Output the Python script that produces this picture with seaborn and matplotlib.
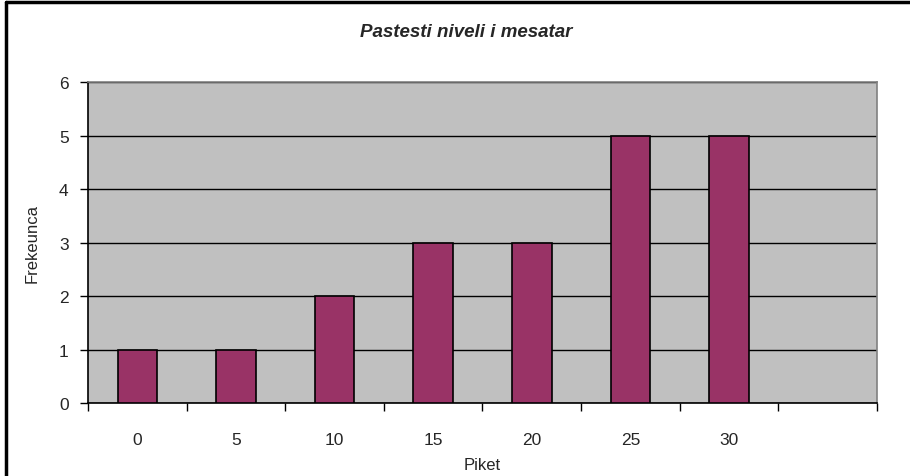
import matplotlib
matplotlib.use("Agg")
import matplotlib.pyplot as plt
from matplotlib.lines import Line2D
import seaborn as sns
import pandas as pd
import numpy as np

# Score classes and how many students fell in each
piket = ["0", "5", "10", "15", "20", "25", "30"]
frekuenca = [1, 1, 2, 3, 3, 5, 5]
n_slots = 8  # one extra empty category slot on the right
y_ticks = [0, 1, 2, 3, 4, 5, 6]

sns.set_theme(style="white")
plt.rcParams["font.family"] = ["Liberation Sans", "DejaVu Sans"]

df = pd.DataFrame({"Piket": piket, "Frekeunca": frekuenca})

fig = plt.figure(figsize=(9.1, 4.77), dpi=100)
ax = fig.add_axes([0.0967, 0.153, 0.8670, 0.673])
ax.set_facecolor("#C0C0C0")

sns.barplot(data=df, x="Piket", y="Frekeunca", order=piket, color="#993366",
            width=0.40, edgecolor="black", linewidth=1.2, saturation=1,
            zorder=3, ax=ax)

ax.set_xlim(-0.5, n_slots - 0.5)
ax.set_ylim(0, 6)
ax.set_yticks(y_ticks)
ax.yaxis.grid(True, color="black", linewidth=1.0, zorder=1)
ax.set_axisbelow(True)

# category boundaries carry the tick marks, labels sit at the centres
ax.set_xticks(np.arange(-0.5, n_slots, 1.0))
ax.set_xticklabels([])
ax.set_xticks(np.arange(len(piket)), minor=True)
ax.set_xticklabels(piket, minor=True, fontsize=12.5)
ax.tick_params(axis="x", which="major", direction="out", length=6,
               width=1, color="black", bottom=True)
ax.tick_params(axis="x", which="minor", length=0, pad=21)
ax.tick_params(axis="y", direction="out", length=6, width=1,
               color="black", left=True, labelsize=12.5, pad=8)

for s in ["left", "bottom"]:
    ax.spines[s].set_color("black")
    ax.spines[s].set_linewidth(1.2)
for s in ["top", "right"]:
    ax.spines[s].set_color("#808080")
    ax.spines[s].set_linewidth(1.2)

ax.set_xlabel("Piket", fontsize=12, labelpad=7)
ax.set_ylabel("Frekeunca", fontsize=12, labelpad=14)

fig.text(0.512, 0.932, "Pastesti niveli i mesatar", ha="center", va="center",
         fontsize=13.5, fontweight="bold", fontstyle="italic")

# chart frame
fig.add_artist(Line2D([0.007, 0.007], [0, 0.993], transform=fig.transFigure,
                      color="black", linewidth=2.5))
fig.add_artist(Line2D([0.007, 1.0], [0.993, 0.993], transform=fig.transFigure,
                      color="black", linewidth=2.5))

fig.savefig("out.png", dpi=100, facecolor="white")
